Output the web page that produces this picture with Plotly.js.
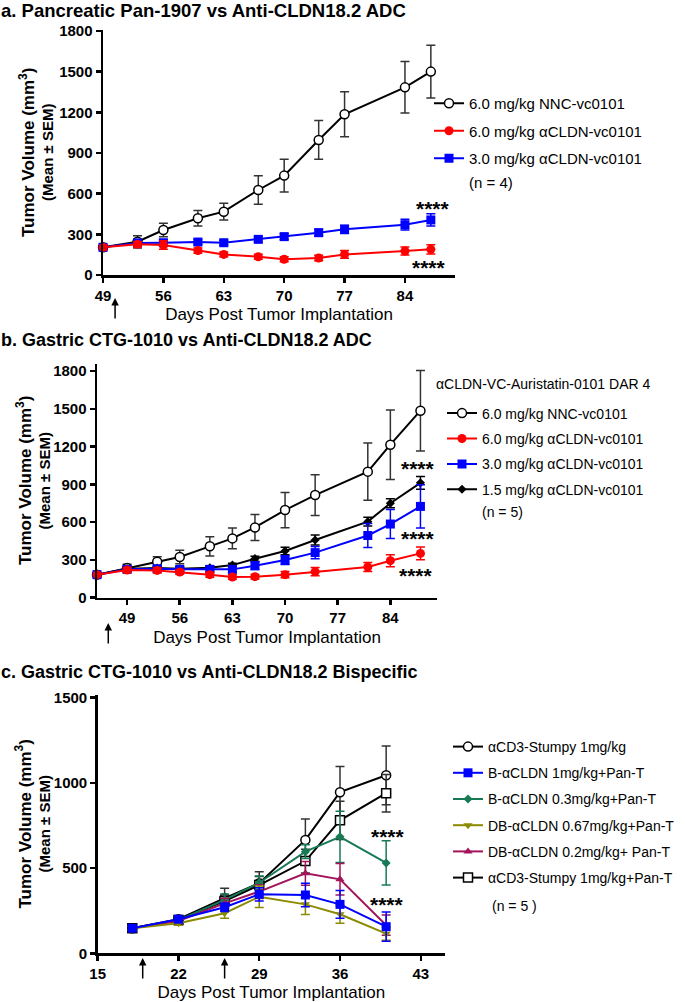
<!DOCTYPE html>
<html>
<head>
<meta charset="utf-8">
<script src="https://cdn.plot.ly/plotly-3.0.1.min.js"></script>
<style>html,body{margin:0;padding:0;background:#fff;}#chart{width:685px;height:1002px;}</style>
</head>
<body>
<div id="chart"></div>
<script>
// ---------- Panel a data ----------
const daysA = [49,53,56,60,63,67,70,74,77,84,87];
const nncA = [204,245,332,418,467,627,733,996,1185,1384,1500];
const nncAErr = [15,45,50,57,62,105,120,143,166,190,194];
const clA6 = [204,226,221,180,152,135,116,125,152,177,189];
const clA6Err = [20,20,32,20,18,18,18,20,28,30,35];
const clA3 = [204,236,238,243,238,263,283,312,337,371,406];
const clA3Err = [20,25,22,18,18,20,22,25,30,40,45];
const namesA = ['6.0 mg/kg NNC-vc0101','6.0 mg/kg \u03b1CLDN-vc0101','3.0 mg/kg \u03b1CLDN-vc0101'];

// ---------- Panel b data ----------
const daysB = [45,49,53,56,60,63,66,70,74,81,84,88];
const nncB = [183,236,286,323,408,471,558,696,815,1001,1215,1485];
const nncBErr = [15,30,40,54,77,83,103,140,162,228,276,319];
const clB6 = [183,220,217,204,183,164,167,183,207,244,294,352];
const clB6Err = [15,20,20,18,20,18,18,25,32,35,48,50];
const clB3 = [183,225,230,225,225,225,254,299,358,494,585,725];
const clB3Err = [15,20,20,18,20,25,30,35,48,95,115,172];
const clB15 = [183,230,236,230,238,259,310,371,458,604,750,912];
const clB15Err = [15,15,15,15,15,15,20,30,40,34,36,50];
const namesB = ['6.0 mg/kg NNC-vc0101','6.0 mg/kg \u03b1CLDN-vc0101','3.0 mg/kg \u03b1CLDN-vc0101','1.5 mg/kg \u03b1CLDN-vc0101'];

// ---------- Panel c data ----------
const daysC = [18,22,26,29,33,36,40];
const stumpy = [147,200,323,411,665,945,1044];
const stumpyErr = [10,15,58,68,123,150,172];
const b1 = [147,200,270,346,342,287,156];
const b1Err = [10,12,25,39,69,82,86];
const b03 = [147,195,313,414,596,683,530];
const b03Err = [10,12,35,40,40,150,130];
const db067 = [147,176,235,332,287,229,115];
const db067Err = [10,12,30,63,59,53,39];
const db02 = [147,190,293,362,469,434,165];
const db02Err = [10,12,30,40,70,92,59];
const stumpyPT = [147,196,307,400,541,780,939];
const stumpyPTErr = [10,12,35,50,70,112,110];
const namesC = ['\u03b1CD3-Stumpy 1mg/kg','B-\u03b1CLDN 1mg/kg+Pan-T','B-\u03b1CLDN 0.3mg/kg+Pan-T','DB-\u03b1CLDN 0.67mg/kg+Pan-T','DB-\u03b1CLDN 0.2mg/kg+ Pan-T','\u03b1CD3-Stumpy 1mg/kg+Pan-T'];

const FONT = 'Arial, "Liberation Sans", Helvetica, sans-serif';
const W = 685, H = 1002;
const px = v => v / W;
const py = v => 1 - v / H;

function tr(x, y, err, name, color, errColor, symbol, size, open, xa, ya, leg, grp) {
  return {
    type: 'scatter', mode: 'lines+markers', x: x, y: y, name: name,
    xaxis: xa, yaxis: ya, legend: leg, legendgroup: grp, cliponaxis: false,
    line: {color: color, width: 2},
    marker: {symbol: symbol, size: size, color: open ? '#ffffff' : color,
             line: {color: color, width: open ? 1.5 : 0}},
    error_y: {type: 'data', array: err, visible: true, color: errColor, thickness: 1.5, width: 4.5}
  };
}

const RED = '#ff0000', BLUE = '#0000ff', GREEN = '#177a55', OLIVE = '#8c8a00', MAROON = '#a3145b';

const data = [
  tr(daysA, nncA, nncAErr, namesA[0], '#000', '#333', 'circle', 9, true, 'x', 'y', 'legend', 'a0'),
  tr(daysA, clA3, clA3Err, namesA[2], BLUE, BLUE, 'square', 9, false, 'x', 'y', 'legend', 'a2'),
  tr(daysA, clA6, clA6Err, namesA[1], RED, RED, 'circle', 9, false, 'x', 'y', 'legend', 'a1'),

  tr(daysB, nncB, nncBErr, namesB[0], '#000', '#333', 'circle', 9, true, 'x2', 'y2', 'legend2', 'b0'),
  tr(daysB, clB15, clB15Err, namesB[3], '#000', '#000', 'diamond', 7, false, 'x2', 'y2', 'legend2', 'b3'),
  tr(daysB, clB3, clB3Err, namesB[2], BLUE, BLUE, 'square', 9, false, 'x2', 'y2', 'legend2', 'b2'),
  tr(daysB, clB6, clB6Err, namesB[1], RED, RED, 'circle', 9, false, 'x2', 'y2', 'legend2', 'b1'),

  tr(daysC, stumpy, stumpyErr, namesC[0], '#000', '#333', 'circle', 9, true, 'x3', 'y3', 'legend3', 'c0'),
  tr(daysC, stumpyPT, stumpyPTErr, namesC[5], '#000', '#333', 'square', 9, true, 'x3', 'y3', 'legend3', 'c5'),
  tr(daysC, b03, b03Err, namesC[2], GREEN, GREEN, 'diamond', 7, false, 'x3', 'y3', 'legend3', 'c2'),
  tr(daysC, db02, db02Err, namesC[4], MAROON, MAROON, 'triangle-up', 8, false, 'x3', 'y3', 'legend3', 'c4'),
  tr(daysC, db067, db067Err, namesC[3], OLIVE, OLIVE, 'triangle-down', 8, false, 'x3', 'y3', 'legend3', 'c3'),
  tr(daysC, b1, b1Err, namesC[1], BLUE, BLUE, 'square', 9, false, 'x3', 'y3', 'legend3', 'c1')
];
const ranks = {a0:1,a1:2,a2:3,b0:1,b1:2,b2:3,b3:4,c0:1,c1:2,c2:3,c3:4,c4:5,c5:6};
data.forEach(t => { t.legendrank = ranks[t.legendgroup]; });

function xax(domain, range, tickvals, anchor) {
  return {domain: domain, range: range, anchor: anchor, tickvals: tickvals,
    showline: true, linecolor: '#000', linewidth: 2.5, ticks: 'outside', ticklen: 5, tickwidth: 2.5,
    tickcolor: '#000', showgrid: false, zeroline: false,
    tickfont: {family: FONT, size: 15, color: '#000', weight: 'bold'},
    title: {text: 'Days Post Tumor Implantation', font: {family: FONT, size: 17, color: '#000'}, standoff: 6}};
}
function yax(domain, range, tickvals, anchor) {
  return {domain: domain, range: range, anchor: anchor, tickvals: tickvals,
    showline: true, linecolor: '#000', linewidth: 2.5, ticks: 'outside', ticklen: 5, tickwidth: 2.5,
    tickcolor: '#000', showgrid: false, zeroline: false,
    tickfont: {family: FONT, size: 15, color: '#000', weight: 'bold'}};
}

const legBase = {bgcolor: 'rgba(0,0,0,0)', borderwidth: 0, xanchor: 'left', yanchor: 'top',
  traceorder: 'grouped', itemclick: false};

function note(text, x, y, size, extra) {
  return Object.assign({text: text, xref: 'paper', yref: 'paper', x: px(x), y: py(y),
    xanchor: 'left', yanchor: 'middle', showarrow: false, borderpad: 0,
    font: {family: FONT, size: size, color: '#000'}}, extra || {});
}
function ytitle(text, size, x, y) {
  return {text: text, xref: 'paper', yref: 'paper', x: px(x), y: py(y), textangle: -90,
    xanchor: 'center', yanchor: 'middle', showarrow: false, borderpad: 0,
    font: {family: FONT, size: size, color: '#000', weight: 'bold'}};
}
function stars(xr, yr, x, y) {
  return {text: '****', xref: xr, yref: yr, x: x, y: y, xanchor: 'center', yanchor: 'middle',
    showarrow: false, font: {family: FONT, size: 21, color: '#000', weight: 'bold'}};
}
function arrow(xr, x, tipY) {
  return {text: '', xref: xr, yref: 'paper', x: x, y: py(tipY), ax: 0, ay: 22,
    showarrow: true, arrowhead: 2, arrowsize: 1, arrowwidth: 1.5, arrowcolor: '#000'};
}
const TFA = {family: FONT, size: 18.5, color: '#000', weight: 'bold'};
const TFB = {family: FONT, size: 18, color: '#000', weight: 'bold'};
const YT1 = 'Tumor Volume (mm<sup>3</sup>)';
const YT2 = '(Mean \u00b1 SEM)';

const layout = {
  width: W, height: H, margin: {l: 0, r: 0, t: 0, b: 0},
  paper_bgcolor: '#fff', plot_bgcolor: '#fff', showlegend: true,
  font: {family: FONT, color: '#000'},
  xaxis: xax([px(103), px(455)], [49, 89.8], [49,56,63,70,77,84], 'y'),
  yaxis: yax([py(275), py(30)], [0, 1807], [0,300,600,900,1200,1500,1800], 'x'),
  xaxis2: xax([px(97), px(437)], [45, 90.2], [49,56,63,70,77,84], 'y2'),
  yaxis2: yax([py(597.7), py(364)], [0, 1856], [0,300,600,900,1200,1500,1800], 'x2'),
  xaxis3: xax([px(97.7), px(445)], [15, 45.1], [15,22,29,36,43], 'y3'),
  yaxis3: yax([py(953.3), py(695)], [0, 1515], [0,500,1000,1500], 'x3'),
  legend: Object.assign({}, legBase, {x: px(429), y: py(87), font: {family: FONT, size: 15, color: '#000'}, tracegroupgap: 5}),
  legend2: Object.assign({}, legBase, {x: px(442), y: py(397.5), font: {family: FONT, size: 14, color: '#000'}, tracegroupgap: 4.2}),
  legend3: Object.assign({}, legBase, {x: px(448), y: py(731), font: {family: FONT, size: 14, color: '#000'}, tracegroupgap: 5}),
  annotations: [
    note('a. Pancreatic Pan-1907 vs Anti-CLDN18.2 ADC', 0, 10.5, 18.5, {font: TFA}),
    note('b. Gastric CTG-1010 vs Anti-CLDN18.2 ADC', 0, 340.5, 18, {font: TFB}),
    note('c. Gastric CTG-1010 vs Anti-CLDN18.2 Bispecific', 0, 671.5, 18, {font: TFB}),
    ytitle(YT1, 17, 27, 153), ytitle(YT2, 15, 47, 153),
    ytitle(YT1, 17, 24, 481), ytitle(YT2, 15, 43.5, 481),
    ytitle(YT1, 17, 23.5, 824), ytitle(YT2, 15, 43.5, 824),
    note('(n = 4)', 468, 182, 15),
    note('\u03b1CLDN-VC-Auristatin-0101 DAR 4', 435, 384, 14),
    note('(n = 5)', 481, 512, 14),
    note('(n = 5 )', 491, 906, 14),
    stars('x', 'y', 87.2, 494),
    stars('x', 'y', 86.8, 52),
    stars('x2', 'y2', 87.7, 1027),
    stars('x2', 'y2', 87.7, 471),
    stars('x2', 'y2', 87.4, 179),
    stars('x3', 'y3', 40.2, 684),
    stars('x3', 'y3', 40.1, 285),
    arrow('x', 50.4, 298),
    arrow('x2', 46.5, 623),
    arrow('x3', 18.9, 958),
    arrow('x3', 26.0, 958)
  ]
};

Plotly.newPlot('chart', data, layout, {staticPlot: true, displayModeBar: false});
</script>
</body>
</html>
